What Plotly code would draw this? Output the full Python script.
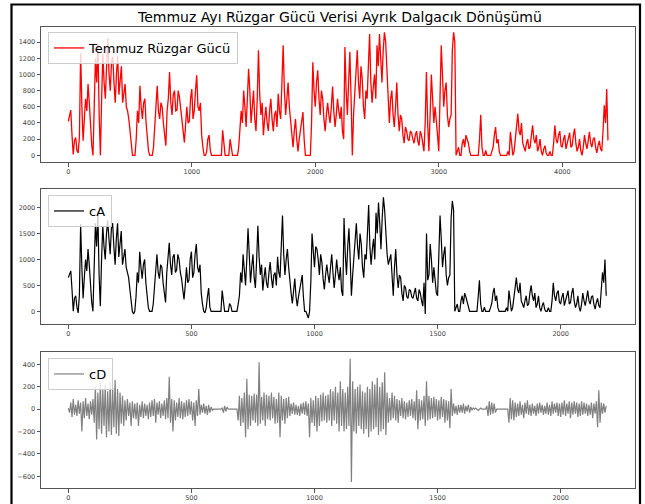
import plotly.graph_objects as go

# ---- data ----
title_text = "Temmuz Ayı Rüzgar Gücü Verisi Ayrık Dalgacık Dönüşümü"
series_names = ["Temmuz Rüzgar Gücü", "cA", "cD"]

# original series, one value every 10 samples
main_step = 10
main_values = [
    420, 500, 560, 250, 10, 180, 220, 60, 30, 230,
    1260, 600, 180, 450, 700, 550, 880, 650, 350, 120,
    0, 600, 1200, 900, 1380, 500, 0, 700, 1250, 900,
    700, 1100, 1450, 1000, 800, 1150, 1220, 900, 650, 1000,
    1230, 750, 900, 1100, 650, 800, 880, 600, 550, 450,
    300, 100, 0, 0, 0, 200, 550, 400, 860, 600,
    450, 650, 700, 400, 200, 50, 0, 0, 0, 100,
    380, 600, 860, 550, 450, 650, 600, 400, 250, 120,
    550, 700, 1030, 650, 500, 750, 800, 550, 560, 800,
    720, 550, 450, 300, 160, 350, 600, 400, 420, 700,
    820, 450, 550, 800, 990, 600, 550, 650, 250, 100,
    0, 0, 40, 200, 250, 60, 0, 0, 0, 0,
    0, 0, 0, 0, 0, 310, 100, 0, 0, 0,
    0, 200, 80, 0, 0, 0, 0, 0, 100, 300,
    550, 400, 800, 600, 350, 700, 1070, 800, 400, 600,
    800, 450, 300, 700, 1300, 750, 500, 650, 250, 450,
    600, 400, 300, 550, 700, 450, 300, 500, 550, 350,
    760, 550, 450, 900, 1360, 800, 500, 700, 900, 600,
    400, 250, 100, 300, 450, 200, 50, 200, 300, 450,
    535, 200, 0, 0, 0, 0, 0, 400, 1150, 800,
    600, 900, 1050, 700, 500, 800, 700, 450, 300, 500,
    650, 500, 400, 600, 850, 550, 350, 500, 700, 550,
    450, 600, 300, 200, 1340, 800, 500, 900, 1280, 700,
    0, 500, 800, 1100, 1300, 900, 700, 1100, 950, 600,
    450, 800, 700, 1100, 1500, 900, 650, 850, 1000, 700,
    1360, 1100, 1500, 1200, 900, 1300, 1520, 1400, 1100, 800,
    400, 700, 800, 500, 350, 600, 900, 500, 300, 500,
    450, 250, 150, 350, 300, 200, 180, 300, 280, 200,
    150, 250, 300, 180, 120, 300, 250, 150, 50, 400,
    1030, 400, 50, 500, 1000, 700, 400, 600, 450, 250,
    50, 800, 1360, 1000, 600, 800, 900, 500, 350, 450,
    500, 1300, 1520, 1400, 0, 50, 100, 0, 0, 150,
    200, 100, 250, 200, 150, 50, 0, 0, 0, 0,
    0, 0, 0, 200, 500, 100, 0, 0, 60, 0,
    0, 0, 0, 50, 100, 250, 350, 150, 200, 50,
    0, 0, 0, 0, 0, 0, 50, 0, 290, 100,
    0, 50, 200, 350, 515, 300, 250, 400, 150, 100,
    50, 150, 200, 80, 100, 250, 370, 200, 150, 250,
    50, 100, 200, 50, 0, 80, 120, 30, 0, 0,
    50, 0, 0, 150, 370, 200, 150, 250, 300, 120,
    100, 200, 250, 80, 150, 220, 280, 100, 120, 250,
    330, 150, 50, 100, 200, 60, 0, 100, 250, 150,
    80, 180, 290, 150, 100, 200, 220, 100, 30, 120,
    180, 80, 50, 300, 620, 400, 820, 185,
]

# approximation coefficients, one value every 5 coefficients
ca_step = 5
ca_values = [
    650, 720, 780, 420, 0, 250, 300, 80, -30, 320,
    1680, 850, 250, 650, 1000, 780, 1200, 900, 500, 170,
    0, 850, 1700, 1250, 1900, 700, 100, 1000, 1650, 1250,
    1000, 1500, 1750, 1400, 1100, 1600, 1700, 1250, 900, 1400,
    1700, 1050, 1250, 1550, 900, 1100, 1200, 850, 750, 650,
    420, 140, 0, -50, 0, 280, 750, 550, 1150, 850,
    630, 900, 1000, 550, 280, 70, 0, 0, 0, 140,
    530, 850, 1100, 750, 630, 900, 850, 550, 350, 170,
    750, 1000, 1320, 900, 700, 1050, 1100, 750, 800, 1100,
    1000, 750, 630, 420, 230, 500, 850, 550, 600, 1000,
    1150, 650, 750, 1100, 1300, 850, 750, 900, 350, 140,
    0, -30, 60, 280, 450, 80, 0, 0, 0, 0,
    0, 0, 0, 0, 0, 400, 140, 0, 0, 0,
    0, 150, 110, 0, 0, 0, 0, 0, 140, 300,
    750, 550, 1100, 850, 500, 1000, 1600, 1100, 550, 850,
    1100, 650, 450, 1000, 1650, 1050, 700, 900, 400, 650,
    850, 550, 450, 750, 950, 650, 450, 700, 750, 500,
    1050, 750, 650, 1250, 1850, 1100, 700, 1000, 1200, 850,
    550, 350, 150, 420, 630, 280, 100, 280, 420, 630,
    700, 280, 0, 0, -60, -130, 0, 550, 1500, 1100,
    850, 1250, 1200, 1000, 700, 1100, 950, 630, 420, 700,
    900, 700, 550, 850, 1100, 750, 450, 700, 1000, 750,
    600, 850, 400, 300, 1800, 1100, 700, 1250, 1600, 1000,
    300, 700, 1100, 1500, 1700, 1250, 1000, 1500, 1300, 850,
    650, 1100, 1000, 1500, 2050, 1250, 900, 1200, 1400, 1000,
    1900, 1500, 2100, 1700, 1200, 1800, 2200, 1950, 1500, 1100,
    900, 1000, 1100, 700, 300, 850, 1200, 700, 450, 700,
    650, 350, 200, 500, 450, 280, 250, 420, 400, 280,
    250, 350, 450, 250, 200, 420, 350, 200, 100, 550,
    -50, 1500, 600, 700, 1300, 1000, 550, 850, 650, 350,
    300, 1100, 1850, 1400, 850, 1100, 1250, 700, 500, 650,
    700, 1800, 2130, 1950, 0, 70, 140, 0, 0, 200,
    300, 140, 350, 280, 200, 70, 0, 0, 0, 0,
    0, 0, 0, 280, 600, 140, 0, 0, 80, 0,
    0, 0, 0, 70, 150, 350, 450, 200, 300, 70,
    0, 0, 0, 0, 0, 0, 70, 0, 400, 140,
    0, 70, 300, 500, 650, 420, 350, 550, 200, 140,
    70, 200, 300, 110, 140, 350, 500, 300, 200, 350,
    70, 140, 300, 70, 0, 110, 170, 40, 0, 0,
    70, 0, 0, 200, 550, 300, 200, 350, 400, 170,
    150, 280, 350, 110, 200, 300, 400, 140, 170, 350,
    450, 200, 70, 140, 300, 80, 0, 140, 350, 200,
    110, 250, 400, 200, 140, 280, 300, 140, 40, 170,
    250, 110, 70, 420, 750, 550, 1000, 300,
]

# detail coefficients, one value every 5 coefficients
cd_step = 5
cd_values = [
    10, -30, 60, -70, 90, -50, 40, -60, 80, -40,
    60, -200, 70, -80, 100, -60, 50, -90, 70, -50,
    90, -120, 200, -270, 150, -180, 250, -220, 180, -150,
    220, -250, 160, -200, 240, -230, 190, -160, 260, -220,
    180, -240, 150, -130, 120, -150, 80, -100, 90, -60,
    60, -150, 70, -80, 50, -90, 60, -150, 40, -70,
    70, -80, 50, -60, 40, -90, 60, -70, 80, -60,
    90, -120, 60, -50, 70, -80, 50, -60, 80, -90,
    100, -80, 290, -120, 90, -200, 80, -100, 60, -70,
    100, -80, 70, -90, 60, -70, 80, -60, 90, -50,
    70, -100, 60, -150, 80, -60, 180, -50, 40, -30,
    50, -40, 30, -50, 40, -30, 20, -10, 0, 0,
    0, 0, 0, 0, 0, 10, -30, 30, -20, 20,
    0, 0, 0, 0, 0, 0, 0, 0, -100, 120,
    -150, 100, -120, 150, -250, 270, -180, 130, -150, 120,
    -100, 140, -120, 130, -150, 420, -130, 110, -100, 150,
    -150, 130, -90, 120, -100, 150, -80, 110, -130, 90,
    -120, 150, -250, 120, -100, 90, -130, 100, -80, 110,
    -60, 50, -40, 60, -50, 40, -50, 30, -60, 50,
    -40, 60, -50, 70, -60, 50, -250, 100, -120, 80,
    -150, 120, -200, 100, -150, 130, -110, 150, -100, 120,
    -120, 130, -100, 180, -150, 160, -100, 200, -130, 150,
    -200, 250, -150, 180, -200, 150, -180, 200, -150, 450,
    -650, 250, -200, 180, -220, 200, -150, 220, -180, 160,
    -220, 150, -180, 200, -250, 180, -200, 250, -180, 220,
    -160, 280, -230, 200, -200, 240, -180, 330, -230, 150,
    -120, 100, -100, 150, -80, 120, -100, 90, -120, 80,
    -60, 100, -80, 70, -90, 60, -70, 80, -60, 90,
    -80, 70, -100, 170, -180, 90, -100, 80, -90, 120,
    -150, 250, -100, 120, -90, 100, -80, 110, -70, 90,
    -100, 80, -90, 110, -70, 90, -120, 80, -100, 70,
    -170, 180, -60, 50, -40, 30, -50, 40, -30, 40,
    -30, 50, -40, 30, -20, 40, -30, 20, -10, 10,
    0, 10, 0, -10, 0, 10, 0, 0, 0, 0,
    30, -60, 70, -50, 60, -40, 50, -30, 0, 0,
    0, 0, 0, 0, 0, 0, 0, 0, -120, 100,
    -90, 80, -100, 60, -70, 50, -60, 70, -50, 40,
    -80, 60, -40, 80, -50, 40, -60, 50, -40, 30,
    -60, 50, -40, 60, -30, 40, -50, 30, -40, 60,
    -50, 40, -60, 70, -40, 50, -30, 60, -60, 50,
    -70, 60, -50, 80, -60, 50, -40, 70, -80, 60,
    -50, 70, -40, 60, -70, 50, -60, 70, -50, 60,
    -40, 50, -60, 40, -50, 60, -80, 50, -40, 70,
    -160, 170, -120, 60, -40, 50, -30, 30,
]

main_xticks = [0, 1000, 2000, 3000, 4000]
coef_xticks = [0, 500, 1000, 1500, 2000]
main_yticks = [0, 200, 400, 600, 800, 1000, 1200, 1400]
ca_yticks = [0, 500, 1000, 1500, 2000]
cd_yticks = [-600, -400, -200, 0, 200, 400]

# ---- figure ----
W, H = 645, 504
FONT = "DejaVu Sans"

main_x = [i * main_step for i in range(len(main_values))]
ca_x = [i * ca_step for i in range(len(ca_values))]
cd_x = [i * cd_step for i in range(len(cd_values))]

fig = go.Figure()
fig.add_trace(go.Scatter(x=main_x, y=main_values, mode="lines", name=series_names[0],
                         line=dict(color="#ff0000", width=1.3), xaxis="x", yaxis="y",
                         legend="legend"))
fig.add_trace(go.Scatter(x=ca_x, y=ca_values, mode="lines", name=series_names[1],
                         line=dict(color="#000000", width=1.2), xaxis="x2", yaxis="y2",
                         legend="legend2"))
fig.add_trace(go.Scatter(x=cd_x, y=cd_values, mode="lines", name=series_names[2],
                         line=dict(color="#808080", width=1.2), xaxis="x3", yaxis="y3",
                         legend="legend3"))


def px_x(p):
    return p / W


def px_y(p):
    return 1 - p / H


axis_common = dict(showline=True, mirror=True, linecolor="#555555", linewidth=1,
                   ticks="outside", ticklen=3.5, tickwidth=1, tickcolor="#555555",
                   showgrid=False, zeroline=False,
                   tickfont=dict(family=FONT, size=6.5, color="#444444"))

xdom = [px_x(41), px_x(635)]
fig.update_layout(
    xaxis=dict(domain=xdom, range=[-221, 4589], tickvals=main_xticks, anchor="y", **axis_common),
    yaxis=dict(domain=[px_y(162), px_y(27)], range=[-82, 1586], tickvals=main_yticks,
               anchor="x", **axis_common),
    xaxis2=dict(domain=xdom, range=[-111, 2302], tickvals=coef_xticks, anchor="y2", **axis_common),
    yaxis2=dict(domain=[px_y(324), px_y(189)], range=[-245, 2360], tickvals=ca_yticks,
                anchor="x2", **axis_common),
    xaxis3=dict(domain=xdom, range=[-111, 2302], tickvals=coef_xticks, anchor="y3", **axis_common),
    yaxis3=dict(domain=[px_y(488), px_y(352)], range=[-704, 511], tickvals=cd_yticks,
                anchor="x3", **axis_common),
)

legend_common = dict(xanchor="left", yanchor="top", bgcolor="rgba(255,255,255,0.8)",
                     bordercolor="#cccccc", borderwidth=1,
                     font=dict(family=FONT, size=13, color="#000000"),
                     tracegroupgap=0, itemwidth=30)
fig.update_layout(
    legend=dict(x=px_x(48), y=px_y(32), **legend_common),
    legend2=dict(x=px_x(48), y=px_y(195), **legend_common),
    legend3=dict(x=px_x(48), y=px_y(358), **legend_common),
)

fig.update_layout(
    width=W, height=H,
    margin=dict(l=0, r=0, t=0, b=0),
    paper_bgcolor="white", plot_bgcolor="white",
    font=dict(family=FONT),
    showlegend=True,
    annotations=[dict(text=title_text, x=px_x(339.5), y=px_y(17), xref="paper", yref="paper",
                      xanchor="center", yanchor="middle", showarrow=False,
                      font=dict(family=FONT, size=14, color="#000000"))],
    shapes=[dict(type="rect", xref="paper", yref="paper",
                 x0=px_x(11.5), x1=px_x(640), y0=-0.05, y1=px_y(4.5),
                 line=dict(color="#000000", width=2.2), fillcolor="rgba(0,0,0,0)")],
)

fig.write_html("out.html")
